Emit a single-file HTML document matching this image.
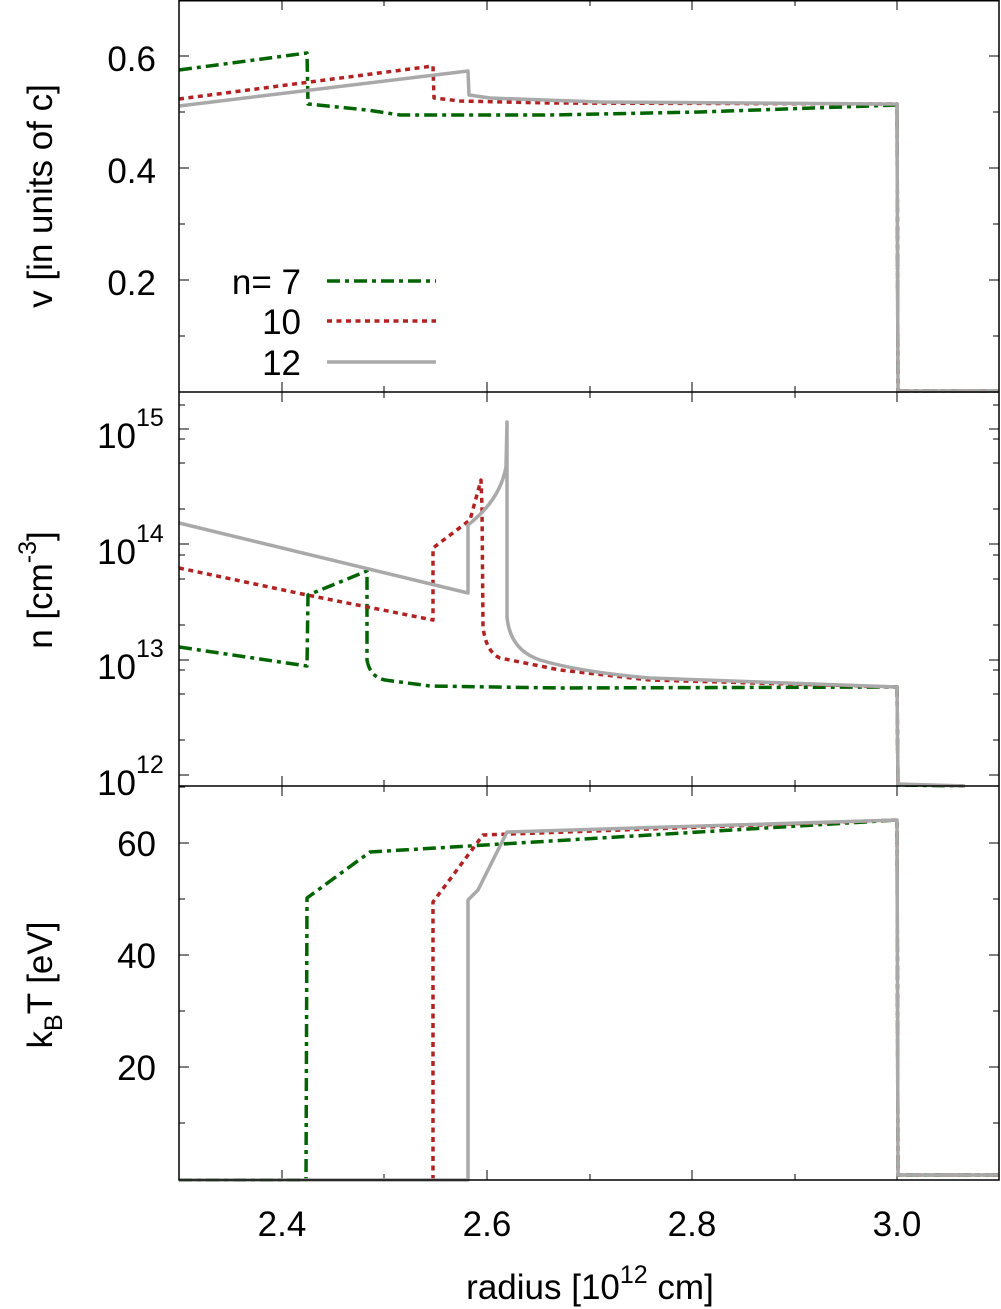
<!DOCTYPE html>
<html><head><meta charset="utf-8"><style>
html,body{margin:0;padding:0;background:#fff}
svg{display:block}
text{font-family:"Liberation Sans",sans-serif;fill:#000}
</style></head><body>
<svg width="1001" height="1309" viewBox="0 0 1001 1309" xmlns="http://www.w3.org/2000/svg">
<g stroke="#000" stroke-width="1">
<path d="M282,1180v-10M487,1180v-10M692,1180v-10M897,1180v-10M384,1180v-6M590,1180v-6M795,1180v-6"/>
<path d="M282,786v-10M487,786v-10M692,786v-10M897,786v-10M384,786v-6M590,786v-6M795,786v-6"/>
<path d="M282,392v-10M487,392v-10M692,392v-10M897,392v-10M384,392v-6M590,392v-6M795,392v-6"/>
<path d="M282,0v10M487,0v10M692,0v10M897,0v10M384,0v6M590,0v6M795,0v6"/>
<path d="M282,392v10M487,392v10M692,392v10M897,392v10M384,392v6M590,392v6M795,392v6"/>
<path d="M282,786v10M487,786v10M692,786v10M897,786v10M384,786v6M590,786v6M795,786v6"/>
<path d="M179,280h10M179,168h10M179,56h10M179,336h6M179,224h6M179,112h6M999,280h-10M999,168h-10M999,56h-10M999,336h-6M999,224h-6M999,112h-6"/>
<path d="M179,429h10M179,544h10M179,660h10M179,775h10M999,429h-10M999,544h-10M999,660h-10M999,775h-10"/>
<path d="M179,509h6M179,463h6M179,439h6M179,625h6M179,579h6M179,555h6M179,740h6M179,694h6M179,670h6M179,405h6
M999,509h-6M999,463h-6M999,439h-6M999,625h-6M999,579h-6M999,555h-6M999,740h-6M999,694h-6M999,670h-6M999,405h-6"/>
<path d="M179,1067h10M179,955h10M179,843h10M179,1123h6M179,1011h6M179,899h6M179,787h6M999,1067h-10M999,955h-10M999,843h-10M999,1123h-6M999,1011h-6M999,899h-6"/>
</g>
<g fill="none" stroke-width="3.5" stroke-linejoin="round">
<path stroke="#006400" stroke-dasharray="13 5 4 5" d="M179,70L307,53L308,104L367,110L400,115L550,115L700,112L897,105L898,391L999,391"/>
<path stroke="#b22222" stroke-dasharray="5 4.5" d="M179,99L433,66L434,98L460,101L550,103L897,104L898,391L999,391"/>
<path stroke="#a9a9a9" d="M179,106L468,71L469,95L490,98L600,102L897,104L898,391L999,391"/>
<path stroke="#006400" stroke-dasharray="13 5 4 5" d="M179,647L307,666L308,595L367,571L367,660Q370,677 385,680L430,686L560,688L897,687L898,785L963,786"/>
<path stroke="#b22222" stroke-dasharray="5 4.5" d="M179,568L307,595L433,620L433,548L470,520L481,480L482,507L483,627Q486,652 500,658L560,670L650,680L897,687L898,785"/>
<path stroke="#a9a9a9" d="M179,523L468,593L468,525Q500,500 506,467L507,422L507,617Q510,650 540,660Q580,672 650,678L897,687L898,784L965,786"/>
<path stroke="#006400" stroke-dasharray="13 5 4 5" d="M179,1180L306,1180L307,898L370,852L897,820L898,1175L999,1175"/>
<path stroke="#b22222" stroke-dasharray="5 4.5" d="M433,1180L433,902L483,835L897,820L898,1175L999,1175"/>
<path stroke="#a9a9a9" d="M179,1180L468,1180L468,900L478,890L507,832L897,820L898,1175L999,1175"/>
<path stroke="#006400" stroke-dasharray="13 5 4 5" d="M327,281H436"/>
<path stroke="#b22222" stroke-dasharray="5 4.5" d="M327,321H436"/>
<path stroke="#a9a9a9" d="M327,362H436"/>
</g>
<g fill="none" stroke="#000" stroke-width="1.5">
<rect x="179" y="0.75" width="820" height="1179.25"/>
<path d="M179,392H999M179,786H999"/>
</g>
<g font-size="35" text-anchor="end">
<text x="156" y="71">0.6</text><text x="156" y="183">0.4</text><text x="156" y="295">0.2</text>
<text x="156" y="856">60</text><text x="156" y="968">40</text><text x="156" y="1080">20</text>
<text x="136" y="448">10</text>
<text x="136" y="564">10</text>
<text x="136" y="679">10</text>
<text x="136" y="795">10</text>
<text x="301" y="294">n= 7</text><text x="301" y="334">10</text><text x="301" y="375">12</text>
</g>
<g font-size="25">
<text x="136" y="426">15</text>
<text x="136" y="542">14</text>
<text x="136" y="657">13</text>
<text x="136" y="773">12</text>
</g>
<g font-size="35" text-anchor="middle">
<text x="282" y="1236">2.4</text><text x="487" y="1236">2.6</text><text x="692" y="1236">2.8</text><text x="897" y="1236">3.0</text>
<text x="590" y="1299">radius [10<tspan dy="-16" font-size="25">12</tspan><tspan dy="16"> cm]</tspan></text>
<text transform="translate(52,196) rotate(-90)">v [in units of c]</text>
<text transform="translate(52,590) rotate(-90)">n [cm<tspan dy="-16" font-size="25">-3</tspan><tspan dy="16">]</tspan></text>
<text transform="translate(52,985) rotate(-90)">k<tspan dy="10" font-size="25">B</tspan><tspan dy="-10">T [eV]</tspan></text>
</g>
</svg>
</body></html>
